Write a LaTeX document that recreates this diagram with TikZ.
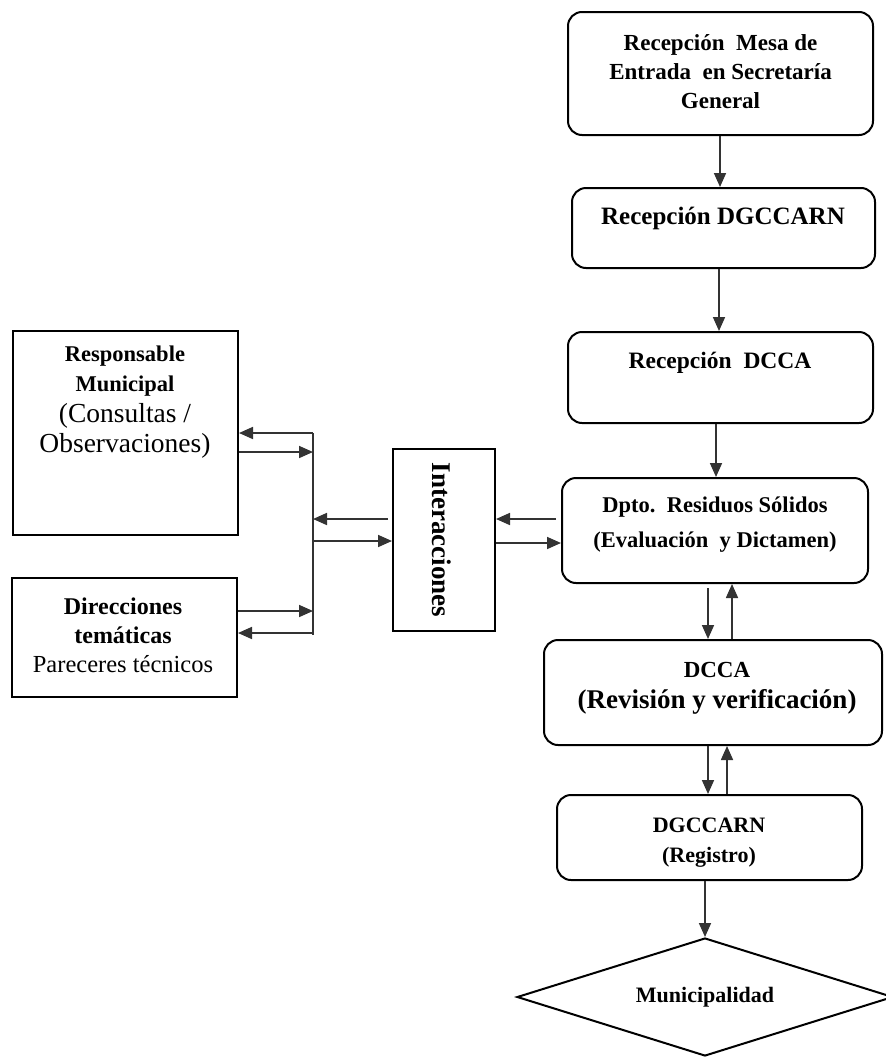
\documentclass[tikz,border=0pt]{standalone}
\usepackage{fontspec}
\setmainfont{Liberation Serif}
\usetikzlibrary{arrows.meta,shapes.geometric,calc}
\definecolor{arrowgray}{HTML}{333333}
\newcommand{\fsz}[2]{\fontsize{#1}{#2}\selectfont}
\begin{document}
\begin{tikzpicture}[x=1pt,y=-1pt,
  rbox/.style={draw=black, line width=2pt, rounded corners=14pt, inner sep=0pt},
  sbox/.style={draw=black, line width=2pt, inner sep=0pt},
  txt/.style={align=center, inner sep=0pt},
  arr/.style={draw=arrowgray, line width=1.7pt, -{Triangle[length=14pt,width=12pt]}},
  plain/.style={draw=arrowgray, line width=1.7pt}]
\useasboundingbox[fill=white] (0,0) rectangle (886,1063);

% right column boxes
\node[rbox, minimum width=305pt, minimum height=123pt] (b1) at (720.5,73.5) {};
\node[rbox, minimum width=303pt, minimum height=80pt] (b2) at (723.5,228) {};
\node[rbox, minimum width=305pt, minimum height=91pt] (b3) at (720.5,377.5) {};
\node[rbox, minimum width=306pt, minimum height=105pt] (b4) at (715,530.5) {};
\node[rbox, minimum width=338pt, minimum height=105pt] (b5) at (713,692.5) {};
\node[rbox, minimum width=305pt, minimum height=85pt] (b6) at (709.5,837.5) {};
\node[draw=black, line width=2pt, diamond, inner sep=0pt, minimum width=376pt, minimum height=118pt] (d) at (705,997) {};

% right column texts
\node[txt, font=\fsz{23}{29}\bfseries] (t1) at (720.5,72) {Recepción\ \ Mesa de\\Entrada\ \ en Secretaría\\General};
\node[txt, font=\fsz{25}{30}\bfseries] (t2) at (723,218) {Recepción DGCCARN};
\node[txt, font=\fsz{23.5}{30}\bfseries] (t3) at (720,363) {Recepción\ \ DCCA};
\node[txt, font=\fsz{22.5}{35}\bfseries] (t4) at (715,524.5) {Dpto.\ \ Residuos Sólidos\\(Evaluación\ \ y Dictamen)};
\node[txt, font=\fsz{27}{31}\bfseries] (t5) at (717,688) {\fsz{23}{31}DCCA\\(Revisión y verificación)};
\node[txt, font=\fsz{22}{30}\bfseries] (t6) at (709,843) {DGCCARN\\(Registro)};
\node[txt, font=\fsz{22}{25}\bfseries] (t7) at (705,997) {Municipalidad};

% left boxes
\node[sbox, minimum width=225pt, minimum height=204pt] (r1) at (125.5,433) {};
\node[sbox, minimum width=225pt, minimum height=119pt] (r2) at (124.5,637.5) {};
\node[sbox, minimum width=102pt, minimum height=182pt] (ib) at (444,540) {};

\node[txt, font=\fsz{27.5}{30.5}] (t8) at (125,402) {\fsz{22.5}{30.5}\bfseries Responsable\\\fsz{22.5}{30.5}\bfseries Municipal\\(Consultas /\\Observaciones)};
\node[txt, font=\fsz{24.5}{29}] (t9) at (123,635) {\fsz{24}{29}\bfseries Direcciones\\\fsz{24}{29}\bfseries temáticas\\Pareceres técnicos};
\node[txt, font=\fsz{27}{30}\bfseries, rotate=-90] (t10) at (442,540) {Interacciones};

% helper coordinates
\coordinate (vt) at (313,433);
\coordinate (vb) at (313,635);
\coordinate (y452) at (0,452);
\coordinate (y611) at (0,611);
\coordinate (y633) at (0,633);
\coordinate (y519) at (0,519);
\coordinate (y541) at (0,541);
\coordinate (y543) at (0,543);
\coordinate (x720) at (720,0);
\coordinate (x719) at (719,0);
\coordinate (x716) at (716,0);
\coordinate (x708) at (708,0);
\coordinate (x732) at (732,0);
\coordinate (x727) at (727,0);

% left connectors
\draw[plain] (vt) -- (vb);
\draw[arr] (vt) -- (r1.east |- vt);
\draw[arr] (r1.east |- y452) -- (vt |- y452);
\draw[arr] (r2.east |- y611) -- (vt |- y611);
\draw[arr] (vt |- y633) -- (r2.east |- y633);
\draw[arr, shorten <=4pt] (ib.west |- y519) -- (vt |- y519);
\draw[arr] (vt |- y541) -- (ib.west |- y541);
\draw[arr, shorten <=5pt] (b4.west |- y519) -- (ib.east |- y519);
\draw[arr] (ib.east |- y543) -- (b4.west |- y543);

% vertical connectors
\draw[arr] (b1.south -| x720) -- (b2.north -| x720);
\draw[arr] (b2.south -| x719) -- (b3.north -| x719);
\draw[arr] (b3.south -| x716) -- (b4.north -| x716);
\draw[arr, shorten <=4pt] (b4.south -| x708) -- (b5.north -| x708);
\draw[arr] (b5.north -| x732) -- (b4.south -| x732);
\draw[arr] (b5.south -| x708) -- (b6.north -| x708);
\draw[arr] (b6.north -| x727) -- (b5.south -| x727);
\draw[arr] (b6.south -| d.north) -- (d.north);
\end{tikzpicture}
\end{document}
